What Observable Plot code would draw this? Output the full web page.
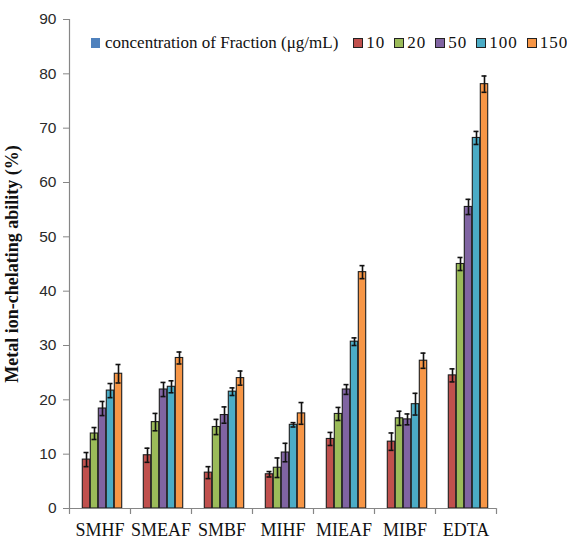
<!DOCTYPE html>
<html>
<head>
<meta charset="utf-8">
<script src="https://cdn.jsdelivr.net/npm/d3@7"></script>
<script src="https://cdn.jsdelivr.net/npm/@observablehq/plot@0.6"></script>
<style>
  body { margin: 0; background: #fff; }
  #wrap { position: relative; width: 567px; height: 545px; }
  #legend { position: absolute; left: 91px; top: 33px; display: flex; align-items: center;
    font-family: "Liberation Serif", "DejaVu Serif", serif; font-size: 17px; color: #111; white-space: nowrap; }
  #legend .item { display: flex; align-items: center; margin-right: 9px; }
  #legend .num { letter-spacing: 1px; }
  #legend .sw { width: 8px; height: 8px; border: 1.4px solid #222; margin-right: 3px; }
  #legend .sw.first { border: none; width: 9px; height: 10px; margin-right: 5px; }
</style>
</head>
<body>
<div id="wrap"><div id="legend"></div><div id="chart"></div></div>
<script>
const categories = ["SMHF", "SMEAF", "SMBF", "MIHF", "MIEAF", "MIBF", "EDTA"];
const concentrations = ["10", "20", "50", "100", "150"];
const colors = ["#C0504D", "#9BBB59", "#8064A2", "#4BACC6", "#F79646"];
const legendTitle = "concentration of Fraction (μg/mL)";
const legendTitleColor = "#4F81BD";

const values10  = [9.0, 9.8, 6.6, 6.3, 12.8, 12.3, 24.5];
const values20  = [13.8, 15.9, 15.0, 7.5, 17.4, 16.6, 45.0];
const values50  = [18.4, 21.9, 17.2, 10.3, 21.9, 16.4, 55.5];
const values100 = [21.7, 22.4, 21.5, 15.4, 30.7, 19.2, 68.2];
const values150 = [24.8, 27.7, 24.0, 17.5, 43.5, 27.2, 78.1];

const errors10  = [1.3, 1.3, 1.1, 0.5, 1.2, 1.6, 1.2];
const errors20  = [1.1, 1.6, 1.4, 1.8, 1.2, 1.3, 1.2];
const errors50  = [1.3, 1.3, 1.5, 1.7, 0.9, 1.0, 1.4];
const errors100 = [1.3, 1.1, 0.7, 0.4, 0.7, 2.0, 1.2];
const errors150 = [1.7, 1.1, 1.3, 2.0, 1.2, 1.4, 1.5];

const yTicks = [0, 10, 20, 30, 40, 50, 60, 70, 80, 90];
const yTitle = "Metal ion-chelating ability (%)";

const seriesValues = [values10, values20, values50, values100, values150];
const seriesErrors = [errors10, errors20, errors50, errors100, errors150];

const rows = [];
categories.forEach((cat, i) => {
  concentrations.forEach((conc, j) => {
    rows.push({cat, conc, value: seriesValues[j][i], err: seriesErrors[j][i]});
  });
});

// legend
const legend = document.getElementById("legend");
{
  const it = document.createElement("div"); it.className = "item";
  it.innerHTML = `<span class="sw first" style="background:${legendTitleColor}"></span><span>${legendTitle}</span>`;
  it.style.marginRight = "15px";
  legend.appendChild(it);
}
concentrations.forEach((c, j) => {
  const it = document.createElement("div"); it.className = "item";
  it.innerHTML = `<span class="sw" style="background:${colors[j]}"></span><span class="num">${c}</span>`;
  legend.appendChild(it);
});

const axisGray = "#868686";
const serif = "Liberation Serif, DejaVu Serif, serif";
const tickShape = {draw(ctx, l) { ctx.moveTo(0, 0); ctx.lineTo(0, -l); }};

const chart = Plot.plot({
  width: 567,
  height: 545,
  marginLeft: 66,
  marginRight: 68,
  marginTop: 19,
  marginBottom: 37,
  style: {background: "#fff"},
  fx: {domain: categories, paddingInner: 0, paddingOuter: 0, axis: null},
  x: {domain: concentrations, paddingInner: 0, paddingOuter: 1.28, align: 0.62, axis: null},
  y: {domain: [0, 90], axis: null},
  color: {domain: concentrations, range: colors},
  marks: [
    Plot.barY(rows, {fx: "cat", x: "conc", y: "value", fill: "conc", stroke: "#1e1e1e", strokeWidth: 1.1, insetLeft: 0.3, insetRight: 0.3}),
    Plot.ruleX(rows, {fx: "cat", x: "conc", y1: d => d.value - d.err, y2: d => d.value + d.err, stroke: "#111", strokeWidth: 1.6}),
    Plot.tickY(rows, {fx: "cat", x: "conc", y: d => d.value + d.err, stroke: "#111", strokeWidth: 1.6, insetLeft: 1.5, insetRight: 1.5}),
    Plot.tickY(rows, {fx: "cat", x: "conc", y: d => d.value - d.err, stroke: "#111", strokeWidth: 1.6, insetLeft: 1.5, insetRight: 1.5}),
    Plot.ruleY([0], {stroke: axisGray, strokeWidth: 1.2}),
    Plot.vector(categories, {fx: d => d, frameAnchor: "bottom-left", length: 5, rotate: 180, anchor: "start", stroke: axisGray, strokeWidth: 1.2, shape: tickShape}),
    Plot.vector([categories[categories.length - 1]], {fx: d => d, frameAnchor: "bottom-right", length: 5, rotate: 180, anchor: "start", stroke: axisGray, strokeWidth: 1.2, shape: tickShape}),
    Plot.frame({anchor: "left", facetAnchor: "left", stroke: axisGray, strokeWidth: 1.2}),
    Plot.axisY({ticks: yTicks, tickSize: 6, tickPadding: 7, stroke: axisGray, fill: "#2a2a2a", fontSize: 15.5, fontFamily: "Liberation Sans, Arial, sans-serif", label: null}),
    Plot.axisY({ticks: [], tickSize: 0, label: yTitle, labelAnchor: "center", labelArrow: "none", labelOffset: 64, fontSize: 18, fontWeight: "bold", fontFamily: serif, fill: "#111"}),
    Plot.axisFx({anchor: "bottom", tickSize: 0, tickPadding: 15, fontSize: 18, fontFamily: serif, fill: "#111", label: null})
  ]
});
document.getElementById("chart").appendChild(chart);
</script>
</body>
</html>
